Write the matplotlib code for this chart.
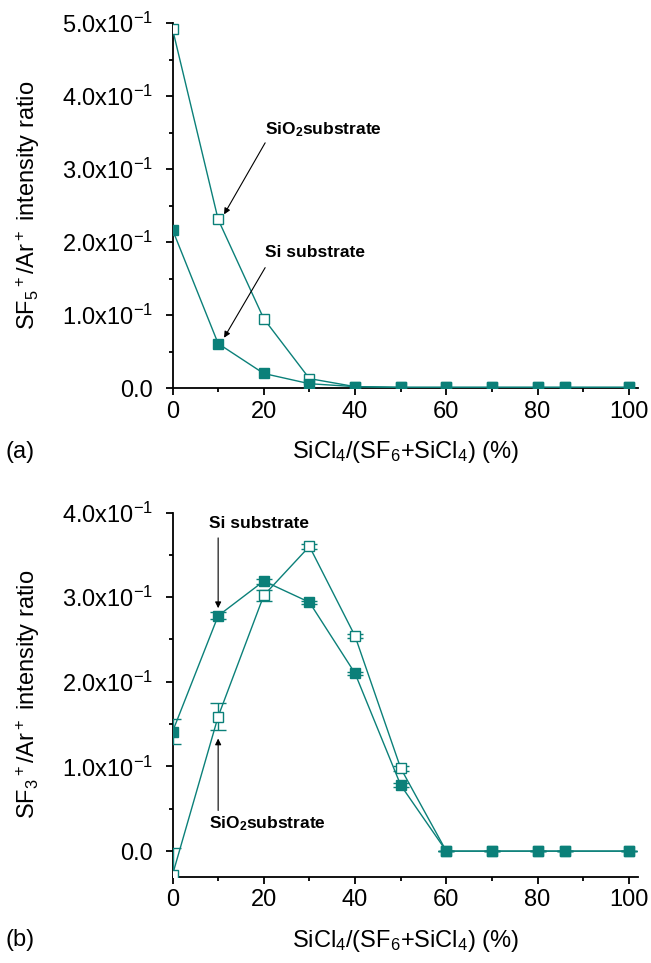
import numpy as np
import matplotlib.pyplot as plt
from matplotlib.ticker import FixedLocator, MultipleLocator

plt.rcParams["font.family"] = ["Liberation Sans", "DejaVu Sans"]
plt.rcParams["mathtext.fontset"] = "custom"
plt.rcParams["mathtext.rm"] = "Liberation Sans"
plt.rcParams["mathtext.it"] = "Liberation Sans"
plt.rcParams["mathtext.bf"] = "Liberation Sans:bold"
plt.rcParams["mathtext.default"] = "regular"

# data
sicl4 = [0, 10, 20, 30, 40, 50, 60, 70, 80, 86, 100]

sf5_sio2 = [0.492, 0.231, 0.095, 0.013, 0.002, 0.001, 0.001, 0.001, 0.001, 0.001, 0.001]
sf5_si = [0.217, 0.061, 0.020, 0.006, 0.002, 0.001, 0.001, 0.001, 0.001, 0.001, 0.001]

sf3_sio2 = [-0.028, 0.159, 0.302, 0.360, 0.254, 0.098, 0.0, 0.0, 0.0, 0.0, 0.0]
sf3_sio2_err = [0.032, 0.016, 0.006, 0.003, 0.002, 0.003, 0.0, 0.0, 0.0, 0.0, 0.0]
sf3_si = [0.141, 0.278, 0.319, 0.294, 0.210, 0.078, 0.0, 0.0, 0.0, 0.0, 0.0]
sf3_si_err = [0.015, 0.004, 0.003, 0.002, 0.002, 0.002, 0.0, 0.0, 0.0, 0.0, 0.0]

yticks_a = [0.0, 0.1, 0.2, 0.3, 0.4, 0.5]
ylabels_a = ["0.0", "1.0x10$^{-1}$", "2.0x10$^{-1}$", "3.0x10$^{-1}$",
             "4.0x10$^{-1}$", "5.0x10$^{-1}$"]
yticks_b = [0.0, 0.1, 0.2, 0.3, 0.4]
ylabels_b = ["0.0", "1.0x10$^{-1}$", "2.0x10$^{-1}$", "3.0x10$^{-1}$", "4.0x10$^{-1}$"]

teal = "#0b8079"
FS = 17


def style_axis(ax, ylim, yticks, ylabels, ylab):
    ax.set_xlim(0, 102)
    ax.set_ylim(*ylim)
    for s in ["top", "right"]:
        ax.spines[s].set_visible(False)
    for s in ["left", "bottom"]:
        ax.spines[s].set_linewidth(1.3)
    ax.xaxis.set_major_locator(FixedLocator([0, 20, 40, 60, 80, 100]))
    ax.xaxis.set_minor_locator(FixedLocator([10, 30, 50, 70, 90]))
    ax.yaxis.set_major_locator(FixedLocator(yticks))
    ax.set_yticklabels(ylabels)
    ax.yaxis.set_minor_locator(MultipleLocator(0.05))
    ax.tick_params(which="major", direction="out", length=5, width=1.3,
                   labelsize=FS, pad=4)
    ax.tick_params(which="minor", direction="out", length=2.8, width=1.3)
    ax.tick_params(axis="y", which="major", pad=9)
    ax.set_xlabel("SiCl$_4$/(SF$_6$+SiCl$_4$) (%)", fontsize=FS, labelpad=12)
    ax.set_ylabel(ylab, fontsize=FS, labelpad=14)


def arrow(ax, start, end):
    ax.annotate("", xy=end, xytext=start,
                arrowprops=dict(arrowstyle="-|>", color="black", lw=0.8,
                                mutation_scale=9, shrinkA=0, shrinkB=0))


def label(ax, x, y, s):
    ax.text(x, y, s, fontsize=12.5, fontweight="bold", ha="left", va="center")


fig = plt.figure(figsize=(6.51, 9.63), dpi=100)
ax1 = fig.add_axes([0.265, 0.597, 0.715, 0.379])
ax2 = fig.add_axes([0.265, 0.0898, 0.715, 0.378])

# panel (a)
ax1.plot(sicl4, sf5_sio2, "s-", color=teal, mfc="white", mec=teal, ms=7,
         lw=1.0, mew=1.0, zorder=3)
ax1.plot(sicl4, sf5_si, "s-", color=teal, mfc=teal, mec=teal, ms=7,
         lw=1.0, zorder=4)
style_axis(ax1, (0, 0.5), yticks_a, ylabels_a, "SF$_5$$^+$/Ar$^+$ intensity ratio")
label(ax1, 20.3, 0.354, "SiO$_2$substrate")
arrow(ax1, (20.3, 0.336), (11.3, 0.238))
label(ax1, 20.3, 0.186, "Si substrate")
arrow(ax1, (20.3, 0.165), (11.3, 0.069))
fig.text(0.008, 0.531, "(a)", fontsize=FS, va="center")

# panel (b)
ax2.errorbar(sicl4, sf3_sio2, yerr=sf3_sio2_err, fmt="s-", color=teal,
             mfc="white", mec=teal, ms=7, lw=1.0, mew=1.0, capsize=6,
             elinewidth=1.0, capthick=1.0, zorder=3)
ax2.errorbar(sicl4, sf3_si, yerr=sf3_si_err, fmt="s-", color=teal,
             mfc=teal, mec=teal, ms=7, lw=1.0, capsize=6,
             elinewidth=1.0, capthick=1.0, zorder=4)
style_axis(ax2, (-0.03, 0.4), yticks_b, ylabels_b, "SF$_3$$^+$/Ar$^+$ intensity ratio")
label(ax2, 8.0, 0.387, "Si substrate")
arrow(ax2, (10.0, 0.370), (10.0, 0.287))
label(ax2, 8.0, 0.033, "SiO$_2$substrate")
arrow(ax2, (10.0, 0.048), (10.0, 0.133))
fig.text(0.008, 0.024, "(b)", fontsize=FS, va="center")

fig.savefig("out.png", dpi=100)
